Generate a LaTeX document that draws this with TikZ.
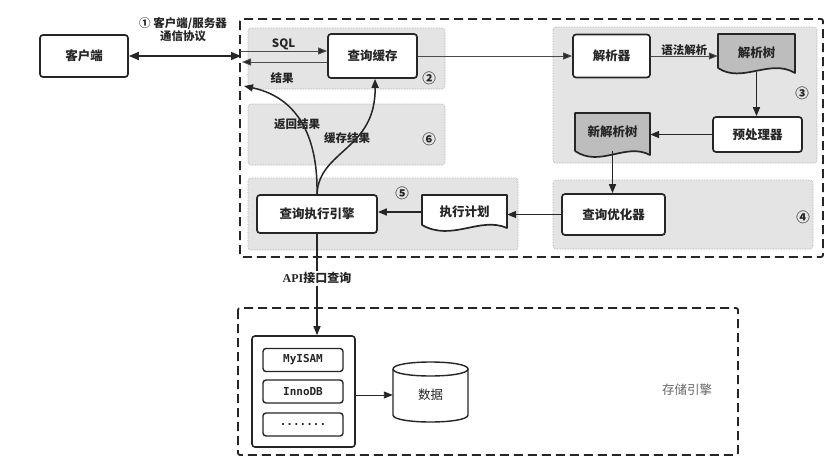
\documentclass[tikz,border=0pt]{standalone}
\usepackage{fontspec}
\setmainfont{Noto Sans CJK SC}
\newfontfamily\monof{DejaVu Sans Mono}
\newfontfamily\serif{Liberation Serif}
\usetikzlibrary{arrows.meta,calc}
\definecolor{ink}{HTML}{262626}
\definecolor{panelfill}{HTML}{E4E4E4}
\definecolor{docfill}{HTML}{BDBDBD}
\tikzset{
  box/.style={draw=ink, line width=1.7pt, rounded corners=3pt, fill=white, text=ink,
    font=\bfseries\fontsize{12.5}{14}\selectfont, inner sep=0pt},
  doctext/.style={text=ink, font=\bfseries\fontsize{12.5}{14}\selectfont, inner sep=0pt},
  docline/.style={draw=ink, line width=1.7pt, line join=round},
  panel/.style={draw=gray!70, densely dotted, line width=0.6pt, fill=panelfill, rounded corners=3pt},
  bigdash/.style={draw=ink, line width=1.8pt, dash pattern=on 9pt off 5pt, rounded corners=2pt},
  arr/.style={draw=ink, line width=1.5pt, -{Triangle[length=9pt,width=7pt]}},
  thinarr/.style={draw=gray!60!black, line width=0.9pt, -{Triangle[length=9pt,width=7pt,fill=ink]}},
  lbl/.style={text=ink, font=\bfseries\fontsize{11.5}{13}\selectfont, inner sep=1pt},
  num/.style={text=ink, font=\bfseries\fontsize{13.5}{14}\selectfont, inner sep=0pt},
  engbox/.style={draw=ink, line width=1.4pt, rounded corners=3pt, fill=white, text=ink,
    font=\monof\bfseries\fontsize{11}{12}\selectfont, inner sep=0pt, minimum width=80pt, minimum height=23pt},
}
\begin{document}
\begin{tikzpicture}[x=1pt,y=-1pt]
\useasboundingbox[fill=white] (0,0) rectangle (840,466);

% big dashed boxes
\draw[bigdash] (240,19) rectangle (823,257);
\draw[bigdash] (238,308) rectangle (738,455);

% panels
\draw[panel] (248,28) rectangle (445,89);
\draw[panel] (248,104) rectangle (445,165);
\draw[panel] (553,27) rectangle (817,163);
\draw[panel] (553,180) rectangle (813,249);
\draw[panel] (248,178) rectangle (518,250);

% circled numbers
\node[num] (n2) at (429,78) {②};
\node[num] (n6) at (429,139) {⑥};
\node[num] (n3) at (802,93) {③};
\node[num] (n4) at (803,217) {④};
\node[num] (n5) at (402,193) {⑤};

% client
\node[box, minimum width=88pt, minimum height=42pt] (client) at (84,56) {客户端};
\node[lbl, align=center] (proto) at (183,30) {① 客户端/服务器\\通信协议};
\coordinate (srv) at (241,56);
\draw[draw=ink, line width=1.6pt, {Triangle[length=10pt,width=8pt]}-{Triangle[length=10pt,width=8pt]}] (client.east) -- (srv);

% query cache
\node[box, minimum width=89pt, minimum height=44pt] (cache) at (372.5,56) {查询缓存};
\coordinate (sqlin) at (240,51);
\coordinate (resout) at (242,62);
\draw[thinarr] (sqlin) -- (sqlin -| cache.west) node[pos=0.5, above, lbl, yshift=0pt] {SQL};
\draw[thinarr] (resout -| cache.west) -- (resout);
\node[lbl] (reslbl) at (282,78) {结果};

% parser
\node[box, minimum width=77pt, minimum height=43pt] (parser) at (611.5,56) {解析器};
\draw[thinarr] (cache.east) -- (parser.west);

% parse tree (document)
\fill[docfill] (718,34) -- (795,34) -- (795,73) .. controls (770,58) and (742,84) .. (718,68) -- cycle;
\draw[docline] (718,68) -- (718,34) -- (795,34) -- (795,73) .. controls (770,58) and (742,84) .. (718,68);
\node[doctext, minimum width=77pt, minimum height=38pt] (tree) at (756.5,53) {解析树};
\draw[thinarr] (parser.east) -- (tree.west |- parser.east) node[midway, above, lbl, yshift=-1pt] {语法解析};

% preprocessor
\node[box, minimum width=89pt, minimum height=35pt] (pre) at (757.5,134.5) {预处理器};
\draw[arr] (tree.south) -- (tree.south |- pre.north);

% new parse tree (document)
\fill[docfill] (575,113) -- (650,113) -- (650,155) .. controls (626,142) and (600,168) .. (575,151) -- cycle;
\draw[docline] (575,151) -- (575,113) -- (650,113) -- (650,155) .. controls (626,142) and (600,168) .. (575,151);
\node[doctext, minimum width=75pt, minimum height=38pt] (newtree) at (612.5,132) {新解析树};
\draw[arr] (pre.west) -- (pre.west -| newtree.east);

% optimizer
\node[box, minimum width=103pt, minimum height=41pt] (opt) at (613.5,214.5) {查询优化器};
\draw[arr] (newtree.south) -- (newtree.south |- opt.north);

% execution plan (document)
\fill[white] (422,195) -- (507,195) -- (507,228) .. controls (480,216) and (452,242) .. (422,225) -- cycle;
\draw[docline] (422,225) -- (422,195) -- (507,195) -- (507,228) .. controls (480,216) and (452,242) .. (422,225);
\node[doctext, minimum width=85pt, minimum height=30pt] (plan) at (464.5,212) {执行计划};
\draw[arr] (opt.west) -- (opt.west -| plan.east);

% execution engine
\node[box, minimum width=120pt, minimum height=38pt] (engine) at (317,214) {查询执行引擎};
\draw[arr] (plan.west) -- (plan.west -| engine.east);

% curved returns
\coordinate (retin) at (244,86);
\draw[arr] (engine.north) .. controls (318,140) and (300,98) .. (retin);
\draw[arr] (engine.north) .. controls (319,150) and (376,150) .. (cache.south -| 375,0);
\node[lbl] (retlbl) at (297,124) {返回结果};
\node[lbl] (cachelbl) at (347,138) {缓存结果};

% storage engines
\node[draw=ink, line width=1.6pt, rounded corners=3pt, fill=white, minimum width=103pt, minimum height=111pt] (container) at (303.5,391.5) {};
\node[engbox] (myisam) at (303,360) {MyISAM};
\node[engbox] (innodb) at (303,391.5) {InnoDB};
\node[engbox] (dots) at (303,424.5) {.......};
\draw[draw=ink, line width=1.4pt, -{Triangle[length=9pt,width=7pt]}] (engine.south) -- (engine.south |- container.north)
  node[pos=0.44, fill=white, text=ink, inner sep=2pt, font=\bfseries\fontsize{12}{14}\selectfont] {{\serif\bfseries API}接口查询};

% data cylinder
\draw[draw=ink, line width=1.4pt, fill=white] (393,369) -- (393,415) .. controls (393,424.33) and (468,424.33) .. (468,415) -- (468,369);
\draw[draw=ink, line width=1.4pt, fill=white] (393,369) .. controls (393,359.67) and (468,359.67) .. (468,369) .. controls (468,378.33) and (393,378.33) .. (393,369);
\node[doctext, font=\fontsize{12.5}{14}\selectfont, minimum width=75pt, minimum height=50pt] (data) at (430.5,395) {数据};
\draw[draw=ink, line width=0.9pt, -{Triangle[length=9pt,width=7pt]}] (container.east |- data.west) -- (data.west);

\node[text=gray!80!black, font=\fontsize{12.5}{14}\selectfont] (store) at (687,390) {存储引擎};
\end{tikzpicture}
\end{document}
